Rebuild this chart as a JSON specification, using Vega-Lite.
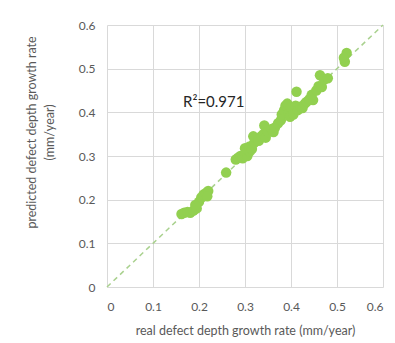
{
  "$schema": "https://vega.github.io/schema/vega-lite/v6.json",
  "width": 276,
  "height": 262,
  "autosize": {"type": "none"},
  "padding": {"left": 107, "top": 25, "right": 12, "bottom": 56},
  "background": "white",
  "config": {
    "font": "Lato",
    "view": {"stroke": null},
    "axis": {
      "grid": true, "gridColor": "#d9d9d9", "gridWidth": 1,
      "domain": false, "ticks": false,
      "labelColor": "#595959", "labelFontSize": 12, "labelFont": "Lato",
      "titleColor": "#595959", "titleFontSize": 12.5, "titleFont": "Lato", "titleFontWeight": "normal"
    }
  },
  "layer": [
    {
      "data": {"values": [{"x": 0, "y": 0}, {"x": 0.6, "y": 0.6}]},
      "mark": {"type": "line", "color": "#a9d18e", "strokeDash": [5, 4], "strokeWidth": 1.5},
      "encoding": {
        "x": {"field": "x", "type": "quantitative", "scale": {"domain": [0, 0.6], "nice": false},
              "axis": {"values": [0, 0.1, 0.2, 0.3, 0.4, 0.5, 0.6], "format": ".1~f", "labelPadding": 14, "title": "real defect depth growth rate (mm/year)", "titlePadding": 12}},
        "y": {"field": "y", "type": "quantitative", "scale": {"domain": [0, 0.6], "nice": false},
              "axis": {"values": [0, 0.1, 0.2, 0.3, 0.4, 0.5, 0.6], "format": ".1~f", "labelPadding": 12, "title": ["predicted defect depth growth rate", "(mm/year)"], "titlePadding": 22, "titleLineHeight": 18, "titleY": 107}}
      }
    },
    {
      "data": {"values": [
        {"x": 0.162, "y": 0.167}, {"x": 0.168, "y": 0.170}, {"x": 0.175, "y": 0.172}, {"x": 0.181, "y": 0.170},
        {"x": 0.188, "y": 0.175}, {"x": 0.195, "y": 0.180}, {"x": 0.192, "y": 0.188}, {"x": 0.200, "y": 0.195},
        {"x": 0.205, "y": 0.205}, {"x": 0.210, "y": 0.212}, {"x": 0.215, "y": 0.215}, {"x": 0.220, "y": 0.220},
        {"x": 0.218, "y": 0.208}, {"x": 0.259, "y": 0.262},
        {"x": 0.280, "y": 0.292}, {"x": 0.285, "y": 0.296}, {"x": 0.290, "y": 0.300}, {"x": 0.295, "y": 0.295},
        {"x": 0.300, "y": 0.305}, {"x": 0.305, "y": 0.300}, {"x": 0.310, "y": 0.310}, {"x": 0.300, "y": 0.318},
        {"x": 0.310, "y": 0.322}, {"x": 0.315, "y": 0.316}, {"x": 0.320, "y": 0.330}, {"x": 0.325, "y": 0.340},
        {"x": 0.318, "y": 0.345}, {"x": 0.330, "y": 0.335}, {"x": 0.335, "y": 0.345}, {"x": 0.340, "y": 0.350},
        {"x": 0.345, "y": 0.342}, {"x": 0.342, "y": 0.370}, {"x": 0.350, "y": 0.355}, {"x": 0.358, "y": 0.362},
        {"x": 0.362, "y": 0.355}, {"x": 0.365, "y": 0.365},
        {"x": 0.372, "y": 0.375}, {"x": 0.378, "y": 0.382}, {"x": 0.380, "y": 0.395}, {"x": 0.385, "y": 0.405},
        {"x": 0.388, "y": 0.415}, {"x": 0.392, "y": 0.420}, {"x": 0.395, "y": 0.400}, {"x": 0.400, "y": 0.410},
        {"x": 0.398, "y": 0.390}, {"x": 0.405, "y": 0.395}, {"x": 0.410, "y": 0.415}, {"x": 0.412, "y": 0.447},
        {"x": 0.415, "y": 0.405}, {"x": 0.420, "y": 0.413}, {"x": 0.425, "y": 0.410}, {"x": 0.430, "y": 0.420},
        {"x": 0.434, "y": 0.424}, {"x": 0.440, "y": 0.430}, {"x": 0.448, "y": 0.428}, {"x": 0.445, "y": 0.440},
        {"x": 0.455, "y": 0.450}, {"x": 0.460, "y": 0.460}, {"x": 0.467, "y": 0.458}, {"x": 0.463, "y": 0.485},
        {"x": 0.472, "y": 0.475}, {"x": 0.480, "y": 0.478},
        {"x": 0.517, "y": 0.516}, {"x": 0.521, "y": 0.536}, {"x": 0.515, "y": 0.525}
      ]},
      "mark": {"type": "point", "filled": true, "color": "#92d050", "opacity": 1, "size": 110},
      "encoding": {
        "x": {"field": "x", "type": "quantitative"},
        "y": {"field": "y", "type": "quantitative"}
      }
    },
    {
      "data": {"values": [{"x": 0.232, "y": 0.423, "label": "R²=0.971"}]},
      "mark": {"type": "text", "fontSize": 15, "color": "#262626", "font": "Lato"},
      "encoding": {
        "x": {"field": "x", "type": "quantitative"},
        "y": {"field": "y", "type": "quantitative"},
        "text": {"field": "label"}
      }
    }
  ]
}
